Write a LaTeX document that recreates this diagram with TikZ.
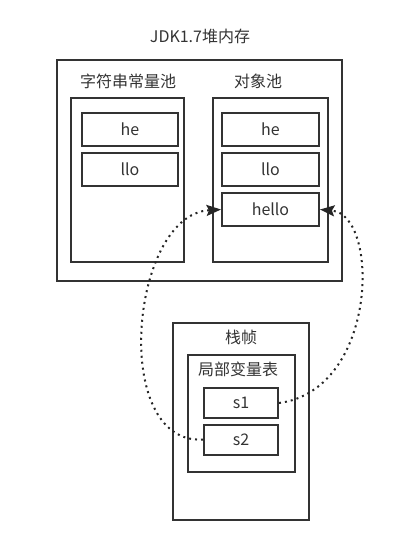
\documentclass[tikz,border=0pt]{standalone}
\usepackage{fontspec}
\setmainfont{Noto Sans CJK SC}
\usepackage{tikz}
\usetikzlibrary{shapes,arrows.meta,positioning,calc}

\begin{document}
\begin{tikzpicture}[x=0.75pt, y=-0.75pt, node distance=30pt, every node/.style={align=center, text=black!80, font=\fontsize{12pt}{14pt}\selectfont}]
        \useasboundingbox (0,0) rectangle (404,536);
        % 定义样式
        \tikzstyle{container} = [rectangle, draw=black!80, line width=1.5pt, inner sep=0pt]
        \tikzstyle{cell} = [rectangle, minimum height=24.75pt, text centered, draw=black!80, line width=1.5pt]
        \tikzstyle{ref} = [line width=1.5pt, draw=black!85, dash pattern=on 1.5pt off 3pt, -{Stealth[length=11pt, width=8.5pt, inset=2pt, line width=0pt]}]

        % 堆内存
        \node (title) at (200,36) {JDK1.7堆内存};
        \node (heap) [container, minimum width=213.75pt, minimum height=165.75pt] at (199.5,170.5) {};
        \node (strpool) [container, minimum width=84.75pt, minimum height=123pt] at (127.5,180) {};
        \node (objpool) [container, minimum width=86.25pt, minimum height=123pt] at (270.5,180) {};
        \node (strlabel) at (128,81) {字符串常量池};
        \node (objlabel) at (258,81) {对象池};

        % 字符串常量池内容
        \node (she) [cell, minimum width=72pt] at (130,129.5) {he};
        \node (sllo) [cell, minimum width=72pt, below of=she] {llo};

        % 对象池内容
        \node (ohe) [cell, minimum width=72.75pt] at (270.5,129.5) {he};
        \node (ollo) [cell, minimum width=72.75pt, below of=ohe] {llo};
        \node (hello) [cell, minimum width=72.75pt, below of=ollo] {hello};

        % 栈帧
        \node (frame) [container, minimum width=102pt, minimum height=147.75pt] at (241,421.5) {};
        \node (framelabel) at (241,337) {栈帧};
        \node (vars) [container, minimum width=80.25pt, minimum height=87.75pt] at (241.5,413.5) {};
        \node (varslabel) at (238,369) {局部变量表};
        \node (s1) [cell, minimum width=55.5pt, minimum height=22.5pt] at (241,403) {s1};
        \node (s2) [cell, minimum width=55.5pt, minimum height=22.5pt, below of=s1, node distance=27.4pt] {s2};

        % 引用
        \draw [ref] (s1.east) .. controls (378,390) and (380,215) .. (hello.east);
        \draw [ref] (s2.west) .. controls (110,445) and (130,215) .. (hello.west);
\end{tikzpicture}
\end{document}
